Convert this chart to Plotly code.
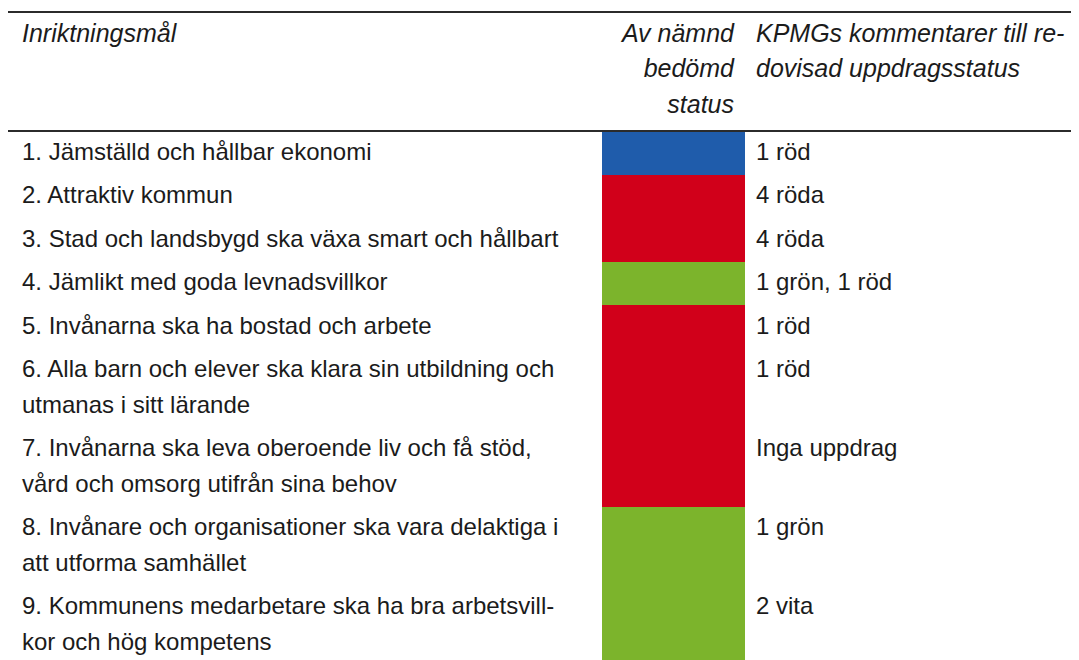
import plotly.graph_objects as go

# ---------------- data ----------------
header_goal = ["Inriktningsmål"]
header_status = ["Av nämnd", "bedömd", "status"]
header_comment = ["KPMGs kommentarer till re-", "dovisad uppdragsstatus"]

goals = [
    ["1. Jämställd och hållbar ekonomi"],
    ["2. Attraktiv kommun"],
    ["3. Stad och landsbygd ska växa smart och hållbart"],
    ["4. Jämlikt med goda levnadsvillkor"],
    ["5. Invånarna ska ha bostad och arbete"],
    ["6. Alla barn och elever ska klara sin utbildning och", "utmanas i sitt lärande"],
    ["7. Invånarna ska leva oberoende liv och få stöd,", "vård och omsorg utifrån sina behov"],
    ["8. Invånare och organisationer ska vara delaktiga i", "att utforma samhället"],
    ["9. Kommunens medarbetare ska ha bra arbetsvill-", "kor och hög kompetens"],
]
status = ["blå", "röd", "röd", "grön", "röd", "röd", "röd", "grön", "grön"]
comments = ["1 röd", "4 röda", "4 röda", "1 grön, 1 röd", "1 röd", "1 röd",
            "Inga uppdrag", "1 grön", "2 vita"]

# ---------------- styles / layout ----------------
W, H = 1079, 660
PAGE_OFF = 8         # default body margin of the html page
FONT = "Liberation Sans, Arial, Helvetica, sans-serif"
FS = 24
HFS = 25
TXT = "#1b1b1b"
RULE = "#2b2b2b"
status_colors = {"blå": "#1f5cab", "röd": "#d1001a", "grön": "#7cb42c"}

LINE = 35.5          # line pitch
PAD = 8              # extra per row
BASE_OFF = 31        # first baseline below row top
TABLE_TOP = 131      # header rule
TOP_RULE = 12
RULE_X0 = 8
X_GOAL = 22
X_STAT0, X_STAT1 = 602, 745
X_STAT_HDR = 734
X_COMM = 756
HDR_BASE = 44

def center_from_baseline(b, fs):
    return b - 0.35 * fs

# rows geometry
tops, heights = [], []
y = TABLE_TOP
for g in goals:
    h = len(g) * LINE + PAD
    tops.append(y)
    heights.append(h)
    y += h

fig = go.Figure()

# status cells
fig.add_trace(go.Bar(
    x=[(X_STAT0 + X_STAT1) / 2] * len(status),
    y=heights,
    base=tops,
    width=X_STAT1 - X_STAT0,
    marker=dict(color=[status_colors[s] for s in status], line=dict(width=0)),
    hoverinfo="skip",
))

# rules
for ry in (TOP_RULE, TABLE_TOP):
    fig.add_trace(go.Scatter(x=[RULE_X0, W], y=[ry, ry], mode="lines",
                             line=dict(color=RULE, width=2), hoverinfo="skip"))

# header texts
hx, hy, ht = [], [], []
for i, t in enumerate(header_goal):
    hx.append(X_GOAL); hy.append(center_from_baseline(HDR_BASE + i * LINE, HFS)); ht.append("<i>" + t + "</i>")
for i, t in enumerate(header_comment):
    hx.append(X_COMM); hy.append(center_from_baseline(HDR_BASE + i * LINE, HFS)); ht.append("<i>" + t + "</i>")
fig.add_trace(go.Scatter(x=hx, y=hy, text=ht, mode="text", textposition="middle right",
                         textfont=dict(family=FONT, size=HFS, color=TXT), hoverinfo="skip"))
sx = [X_STAT_HDR] * len(header_status)
sy = [center_from_baseline(HDR_BASE + i * LINE, HFS) for i in range(len(header_status))]
fig.add_trace(go.Scatter(x=sx, y=sy, text=["<i>" + t + "</i>" for t in header_status],
                         mode="text", textposition="middle left",
                         textfont=dict(family=FONT, size=HFS, color=TXT), hoverinfo="skip"))

# body texts
bx, by, bt = [], [], []
for top, g, c in zip(tops, goals, comments):
    for k, line in enumerate(g):
        bx.append(X_GOAL); by.append(center_from_baseline(top + BASE_OFF + k * LINE, FS)); bt.append(line)
    bx.append(X_COMM); by.append(center_from_baseline(top + BASE_OFF, FS)); bt.append(c)
fig.add_trace(go.Scatter(x=bx, y=by, text=bt, mode="text", textposition="middle right",
                         textfont=dict(family=FONT, size=FS, color=TXT), hoverinfo="skip"))

fig.update_layout(
    width=W - PAGE_OFF, height=H - PAGE_OFF,
    margin=dict(l=0, r=0, t=0, b=0),
    paper_bgcolor="white", plot_bgcolor="white",
    showlegend=False, hovermode=False, bargap=0,
    xaxis=dict(range=[PAGE_OFF, W], visible=False, fixedrange=True),
    yaxis=dict(range=[H, PAGE_OFF], visible=False, fixedrange=True),
)

fig.write_html("out.html", config={"displayModeBar": False})
